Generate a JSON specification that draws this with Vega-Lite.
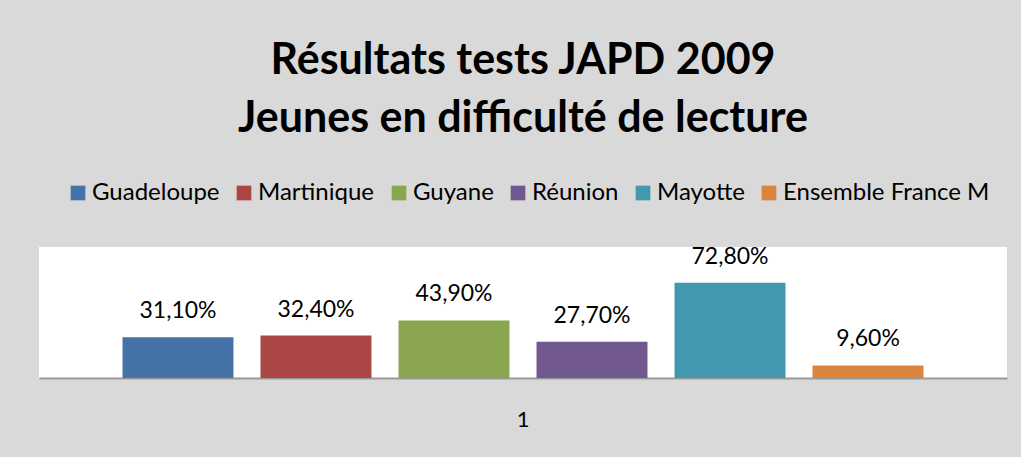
{
  "$schema": "https://vega.github.io/schema/vega-lite/v6.json",
  "width": 968,
  "height": 131,
  "autosize": {"type": "none"},
  "padding": {"left": 39, "top": 247, "right": 14, "bottom": 79},
  "background": "#d9d9d9",
  "title": {
    "text": ["Résultats tests JAPD 2009", "Jeunes en difficulté de lecture"],
    "font": "Lato",
    "fontSize": 43,
    "fontWeight": "bold",
    "color": "#000000",
    "lineHeight": 58,
    "anchor": "middle",
    "frame": "group",
    "baseline": "alphabetic",
    "offset": 6
  },
  "data": {
    "values": [
      {"cat": "1", "region": "Guadeloupe", "value": 0.311},
      {"cat": "1", "region": "Martinique", "value": 0.324},
      {"cat": "1", "region": "Guyane", "value": 0.439},
      {"cat": "1", "region": "Réunion", "value": 0.277},
      {"cat": "1", "region": "Mayotte", "value": 0.728},
      {"cat": "1", "region": "Ensemble France M", "value": 0.096}
    ]
  },
  "encoding": {
    "x": {
      "field": "cat",
      "type": "nominal",
      "title": null,
      "scale": {"paddingInner": 0, "paddingOuter": 0.0845},
      "axis": {
        "labelAngle": 0,
        "ticks": false,
        "labelPadding": 31,
        "labelFont": "Lato",
        "labelFontSize": 22,
        "labelColor": "#000000",
        "domainColor": "#9a9a9a",
        "domainWidth": 2,
        "grid": false
      }
    },
    "xOffset": {
      "field": "region",
      "type": "nominal",
      "sort": ["Guadeloupe", "Martinique", "Guyane", "Réunion", "Mayotte", "Ensemble France M"],
      "scale": {"paddingInner": 0.196, "paddingOuter": 0.098}
    },
    "y": {
      "field": "value",
      "type": "quantitative",
      "scale": {"domain": [0, 1], "nice": false},
      "axis": null
    }
  },
  "layer": [
    {
      "mark": {"type": "bar"},
      "encoding": {
        "color": {
          "field": "region",
          "type": "nominal",
          "sort": ["Guadeloupe", "Martinique", "Guyane", "Réunion", "Mayotte", "Ensemble France M"],
          "scale": {
            "domain": ["Guadeloupe", "Martinique", "Guyane", "Réunion", "Mayotte", "Ensemble France M"],
            "range": ["#4572a7", "#aa4643", "#89a54e", "#71588f", "#4198af", "#db843d"]
          },
          "legend": {
            "title": null,
            "orient": "none",
            "direction": "horizontal",
            "legendX": 27,
            "legendY": -66,
            "symbolType": "square",
            "symbolSize": 215,
            "symbolStrokeWidth": 0,
            "labelFont": "Lato",
            "labelFontSize": 24,
            "labelLimit": 400,
            "labelColor": "#000000",
            "labelOffset": 2,
            "columnPadding": 12
          }
        }
      }
    },
    {
      "mark": {"type": "text", "baseline": "alphabetic", "dy": -19, "font": "Lato", "fontSize": 23, "color": "#000000"},
      "encoding": {
        "text": {"field": "value", "type": "quantitative", "format": ".2%"}
      }
    }
  ],
  "config": {
    "locale": {
      "number": {"decimal": ",", "thousands": " ", "grouping": [3], "currency": ["", " €"]}
    },
    "view": {"fill": "#ffffff", "stroke": null}
  }
}
